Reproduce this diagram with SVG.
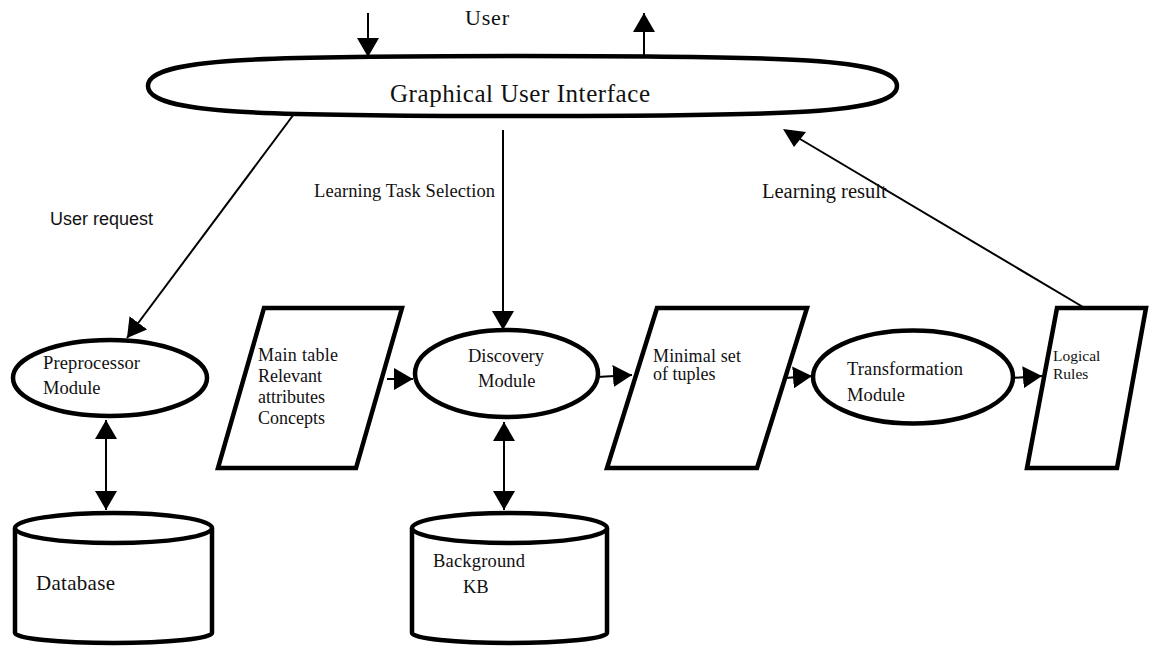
<svg xmlns="http://www.w3.org/2000/svg" width="1149" height="646" viewBox="0 0 1149 646">
<defs>
<marker id="ah" markerUnits="userSpaceOnUse" markerWidth="20" markerHeight="22" refX="19" refY="11" orient="auto-start-reverse">
<path d="M0,0 L19,11 L0,22 z" fill="#000"/>
</marker>
<style>
.n{fill:#fff;stroke:#000;stroke-width:4.5}
.t{font-family:"Liberation Serif","Times New Roman",serif;fill:#111}
.c{stroke:#000;stroke-width:2;fill:none}
</style>
</defs>
<rect width="1149" height="646" fill="#fff"/>
<g id="gui">
<path class="n" stroke-width="6" d="M148,86 C148,58 260,56 522,56 C784,56 897,58 897,86 C897,114 784,116 522,116 C260,116 148,114 148,86 Z"/>
<text class="t" x="390" y="102" font-size="25" textLength="260" lengthAdjust="spacing">Graphical User Interface</text>
</g>
<g id="user">
<text class="t" x="465" y="25" font-size="22" textLength="44" lengthAdjust="spacing">User</text>
</g>
<g id="preprocessor">
<ellipse class="n" cx="110" cy="378" rx="97" ry="38" stroke-width="4"/>
<text class="t" x="43" y="369" font-size="18.5" textLength="97" lengthAdjust="spacing">Preprocessor</text>
<text class="t" x="43" y="394" font-size="18.5">Module</text>
</g>
<g id="maintable">
<polygon class="n" points="264,308 402,308 356,468 218,468" stroke-width="6"/>
<text class="t" x="258" y="361" font-size="18" textLength="80" lengthAdjust="spacing">Main table</text>
<text class="t" x="258" y="382" font-size="18">Relevant</text>
<text class="t" x="258" y="403" font-size="18">attributes</text>
<text class="t" x="258" y="424" font-size="18">Concepts</text>
</g>
<g id="discovery">
<ellipse class="n" cx="506.5" cy="373.5" rx="91.5" ry="43.5" stroke-width="4"/>
<text class="t" x="468" y="362" font-size="18.5" textLength="76" lengthAdjust="spacing">Discovery</text>
<text class="t" x="478" y="387" font-size="18.5">Module</text>
</g>
<g id="minimal">
<polygon class="n" points="657,308 807,308 757,468 607,468" stroke-width="6"/>
<text class="t" x="653" y="362" font-size="18" textLength="88" lengthAdjust="spacing">Minimal set</text>
<text class="t" x="653" y="380" font-size="18">of tuples</text>
</g>
<g id="transformation">
<ellipse class="n" cx="913" cy="377" rx="100" ry="46.5" stroke-width="4"/>
<text class="t" x="847" y="375" font-size="18.5" textLength="116" lengthAdjust="spacing">Transformation</text>
<text class="t" x="847" y="401" font-size="18.5" textLength="58" lengthAdjust="spacing">Module</text>
</g>
<g id="logicalrules">
<polygon class="n" points="1057,308 1146,308 1117,468 1027,468" stroke-width="6"/>
<text class="t" x="1053" y="361" font-size="15.5">Logical</text>
<text class="t" x="1053" y="379" font-size="15.5">Rules</text>
</g>
<g id="database">
<path class="n" d="M15,528 L15,633 A98.5,10 0 0 0 212,633 L212,528" stroke-width="5"/>
<ellipse class="n" cx="113.5" cy="528" rx="98.5" ry="15"/>
<text class="t" x="36" y="590" font-size="21" textLength="79" lengthAdjust="spacing">Database</text>
</g>
<g id="backgroundkb">
<path class="n" d="M412,528 L412,633 A97.5,10 0 0 0 607,633 L607,528" stroke-width="5"/>
<ellipse class="n" cx="509.5" cy="528" rx="97.5" ry="15"/>
<text class="t" x="433" y="567" font-size="18.5" textLength="92" lengthAdjust="spacing">Background</text>
<text class="t" x="463" y="593" font-size="18.5">KB</text>
</g>
<g id="connectors">
<line class="c" x1="368" y1="13" x2="368" y2="57" marker-end="url(#ah)"/>
<line class="c" x1="644" y1="56" x2="644" y2="13" marker-end="url(#ah)"/>
<line class="c" x1="294" y1="114" x2="127" y2="338" marker-end="url(#ah)"/>
<line class="c" x1="503" y1="130" x2="503" y2="330" marker-end="url(#ah)"/>
<line class="c" x1="1083" y1="307" x2="795" y2="136"/>
<polygon points="783,129 806,132 794,147" fill="#000"/>
<line class="c" x1="106" y1="420" x2="106" y2="510" marker-start="url(#ah)" marker-end="url(#ah)"/>
<line class="c" x1="504" y1="422" x2="504" y2="510" marker-start="url(#ah)" marker-end="url(#ah)"/>
<line class="c" x1="387" y1="379" x2="413" y2="379" marker-end="url(#ah)"/>
<line class="c" x1="597" y1="377" x2="632" y2="375" marker-end="url(#ah)"/>
<line class="c" x1="785" y1="378" x2="812" y2="376" marker-end="url(#ah)"/>
<line class="c" x1="1012" y1="378" x2="1042" y2="376" marker-end="url(#ah)"/>
<text x="50" y="225" font-family="'Liberation Sans',Arial,sans-serif" font-size="18" fill="#111">User request</text>
<text class="t" x="314" y="197" font-size="18.5" textLength="181" lengthAdjust="spacing">Learning Task Selection</text>
<text class="t" x="762" y="198" font-size="20.5">Learning result</text>
</g>
</svg>
